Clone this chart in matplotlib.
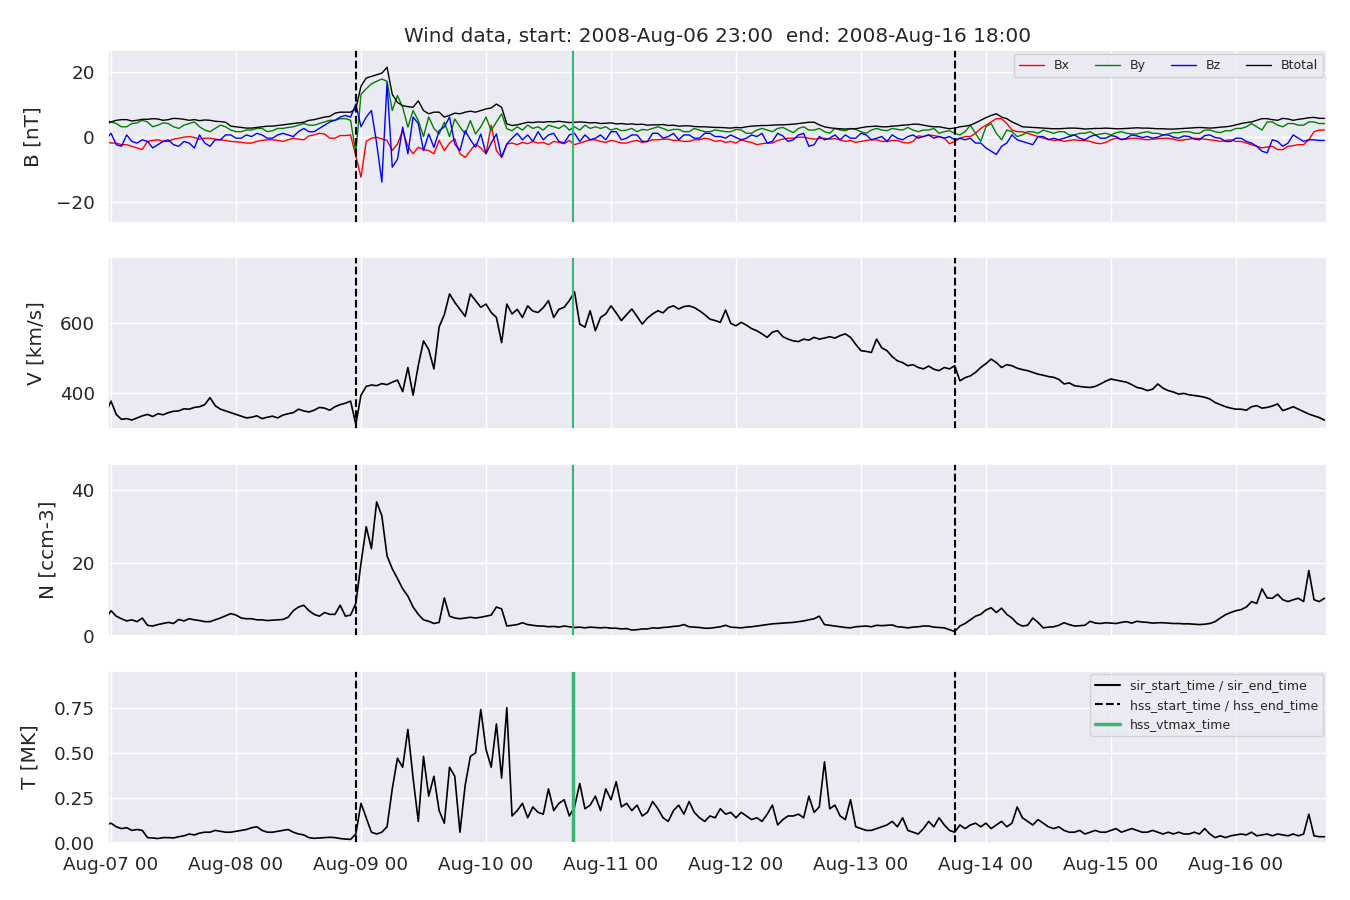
import pandas as pd
import matplotlib
matplotlib.use("Agg")
import matplotlib.pyplot as plt
import matplotlib.dates as mdates
from matplotlib.lines import Line2D
import seaborn as sns

# Wind data, hourly samples, starting 2008-08-06 23:00
# (one row = 12 hours)
START = "2008-08-06 23:00"
STEP = "1h"

bx = [-1.5, -2.0, -2.0, -2.5, -2.5, -3.0, -3.5, -4.0, -1.5, -1.2, -1.0, -1.5,
      -1.5, -0.8, -0.5, -0.2, 0.0, -0.3, -0.8, -0.5, -0.5, -0.8, -1.0, -1.2,
      -1.5, -1.6, -1.8, -2.0, -2.0, -1.5, -1.2, -1.0, -1.0, -1.2, -1.5, -1.0,
      -0.5, -0.8, -1.0, 0.2, 0.5, 1.0, 0.8, -0.5, -0.5, 0.3, 0.3, 0.5,
      -6.0, -12.5, -1.5, -0.5, -0.2, -0.7, -1.2, -4.3, -2.3, 1.8, -3.0, -5.3,
      -3.3, -4.0, -4.3, -5.3, -1.2, -4.3, -2.0, -0.7, -5.3, -6.4, -4.3, -2.3,
      -3.5, -5.3, 3.5, -4.3, -6.4, -2.3, -2.0, -2.5, -1.8, -2.2, -1.5, -2.0,
      -1.8, -2.5, -1.5, -1.8, -2.2, -1.2, -2.5, -2.0, -1.5, -1.0, -1.0, -1.5,
      -1.8, -1.2, -1.5, -2.0, -2.0, -1.5, -1.2, -1.8, -1.5, -1.0, -1.0, -0.8,
      -0.8, -1.2, -1.2, -1.5, -1.5, -1.0, -1.0, -0.5, -0.8, -1.5, -1.2, -1.8,
      -1.5, -2.0, -1.0, -1.5, -1.8, -2.5, -2.2, -2.0, -2.0, -1.2, -0.8, -0.5,
      -0.5, -0.2, -0.2, -0.5, -0.8, -0.6, -0.5, -0.8, -0.6, -1.0, -1.5, -1.2,
      -1.8, -1.5, -1.2, -1.0, -1.0, -1.5, -1.5, -1.2, -1.2, -1.8, -2.0, -1.5,
      0.2, 0.0, 0.5, 0.3, 0.0, -0.5, -2.2, -1.5, -0.5, 0.0, 0.0, 1.0,
      2.5, 3.5, 4.5, 5.5, 5.5, 4.0, 2.0, 1.5, 1.5, 1.0, 0.5, 0.0,
      -0.5, -0.8, -1.2, -1.0, -1.5, -1.2, -1.0, -1.2, -1.2, -1.5, -2.0, -2.2,
      -1.8, -1.0, -0.5, -0.8, -0.8, -0.5, -0.5, -0.8, -1.0, -0.8, -0.7, -0.5,
      -0.5, -0.8, -1.2, -1.0, -0.8, -0.5, -0.6, -0.8, -1.0, -1.2, -1.5, -1.2,
      -1.0, -1.5, -1.5, -2.0, -2.5, -3.0, -3.5, -3.2, -3.0, -4.0, -4.0, -3.0,
      -2.8, -2.5, -2.5, -1.0, 1.5, 2.0, 2.0]
by = [3.5, 4.5, 4.0, 3.0, 3.0, 4.0, 4.2, 5.0, 4.5, 3.0, 3.5, 4.2,
      4.0, 3.0, 2.5, 3.5, 4.0, 4.5, 3.0, 2.0, 1.5, 2.5, 3.5, 3.0,
      2.0, 1.5, 1.5, 2.0, 2.0, 2.5, 2.5, 1.5, 1.8, 2.5, 2.5, 2.8,
      3.0, 3.5, 4.0, 3.5, 3.5, 4.0, 4.5, 5.0, 5.0, 5.5, 5.5, 5.0,
      -5.0, 13.0, 14.7, 16.2, 17.0, 17.7, 17.0, 8.0, 12.6, 9.0, 2.9, 8.0,
      4.9, 0.0, 6.0, 2.5, 0.8, 4.4, 0.0, 5.4, 3.0, 0.8, 4.9, 0.8,
      3.0, 6.0, 1.8, 4.5, 7.0, 2.4, 1.8, 3.0, 2.0, 3.5, 2.5, 3.0,
      2.0, 3.5, 3.0, 2.5, 3.5, 2.0, 3.0, 2.0, 3.5, 2.5, 3.0, 2.5,
      3.0, 2.0, 2.5, 1.8, 2.0, 2.5, 1.5, 2.2, 2.0, 2.5, 3.0, 2.5,
      1.8, 2.2, 2.2, 1.5, 1.5, 2.5, 2.0, 1.5, 1.5, 2.0, 1.8, 1.5,
      1.5, 2.2, 2.0, 1.0, 1.0, 2.0, 2.5, 2.0, 1.5, 2.5, 2.8, 2.0,
      1.2, 2.5, 3.0, 2.0, 2.0, 2.5, 1.5, 1.0, 2.5, 2.0, 1.8, 2.5,
      2.2, 1.5, 1.0, 2.0, 2.5, 2.0, 1.8, 2.5, 2.2, 2.0, 2.8, 2.0,
      1.5, 2.0, 2.0, 2.5, 1.0, 1.5, 1.8, 1.0, 0.5, 1.5, 3.5, 1.0,
      -1.5, 3.0, 4.0, 1.0, -1.0, 2.0, 1.5, 0.0, 0.5, 1.5, 1.5, 1.0,
      2.0, 1.5, 1.0, 1.5, 1.5, 0.5, 0.5, 1.0, 1.0, 1.5, 0.5, 0.8,
      1.0, 0.5, 1.2, 1.5, 1.0, 0.8, 0.8, 1.2, 1.5, 1.0, 1.0, 0.5,
      0.8, 1.2, 1.2, 1.5, 1.5, 1.0, 1.0, 2.0, 2.0, 1.5, 1.2, 1.8,
      1.8, 2.5, 2.5, 3.0, 4.0, 3.0, 2.0, 4.5, 4.5, 3.5, 3.0, 4.0,
      4.0, 3.5, 3.5, 4.5, 4.5, 4.0, 4.0]
bz = [-1.0, 1.0, -2.5, -3.0, 0.5, -1.5, -2.0, -1.0, -1.5, -3.5, -2.5, -1.5,
      -1.0, -2.5, -3.0, -1.5, -2.0, -3.5, 0.5, -2.0, -3.0, -1.0, -1.0, 0.5,
      0.5, -0.5, -0.5, 0.5, 0.0, 1.0, 0.5, -0.5, -0.5, 0.5, 1.0, 0.5,
      0.0, 1.5, 2.5, 1.5, 1.5, 2.5, 3.5, 4.5, 5.0, 6.0, 6.5, 6.0,
      10.0, 3.0, 6.0, 8.0, -2.0, -14.0, 16.5, -9.4, -7.0, 2.9, -5.3, 6.0,
      4.0, -4.3, 0.8, -3.3, 1.8, 3.0, 6.0, -2.3, -4.3, 1.8, -1.0, -3.3,
      0.8, -5.3, -2.0, 0.8, -6.4, -2.3, -0.5, 1.0, -1.0, 0.5, -1.5, 1.5,
      -1.0, 0.5, 1.0, -1.5, -2.0, 0.5, 1.0, -1.5, 0.5, -1.0, -0.5, 0.5,
      -1.0, 1.5, 1.5, -1.0, -0.5, 0.5, 0.5, -1.5, -1.5, 1.0, 1.0, -0.5,
      0.0, 1.0, -1.0, 0.5, 0.5, -0.5, -0.5, 1.0, 1.0, 0.0, 0.0, -0.5,
      0.5, -0.3, -1.0, -0.5, 0.5, 0.0, 1.0, -2.0, -1.5, 1.0, 0.2, -1.5,
      -1.0, 0.5, 1.0, -3.0, -2.5, 0.0, -1.0, -0.5, 0.5, -1.0, 0.5, -0.5,
      -0.5, 1.0, 0.5, -1.0, -0.5, 0.0, -1.5, 0.5, -0.5, -1.0, 0.0, 0.5,
      -0.5, 0.0, 0.5, -0.5, 0.0, -0.5, 0.0, -1.0, -0.5, -1.0, -0.5, -2.0,
      -2.0, -3.5, -4.5, -5.5, -3.0, -2.0, 0.5, -1.0, -1.5, -2.0, -2.5, 0.0,
      0.0, -1.0, -0.5, -1.0, -0.5, 0.0, 0.5, -0.5, -1.0, 0.0, 0.5, -0.5,
      -0.5, 0.3, 0.0, -1.0, -0.5, 0.5, 0.2, -0.3, 0.0, -0.5, -0.2, 0.5,
      0.5, -0.2, -0.5, 0.2, 0.0, -0.8, -1.0, 0.3, 0.5, -0.3, -0.5, -1.5,
      -1.5, -0.5, -0.5, -1.5, -2.0, -3.0, -4.5, -5.0, -1.0, -1.5, -3.0, -2.0,
      0.5, -0.5, -1.5, -1.0, -1.0, -1.2, -1.2]
btotal = [4.8, 4.5, 5.0, 5.2, 5.2, 4.8, 5.0, 5.3, 5.3, 5.5, 5.4, 5.0,
          5.2, 5.6, 5.5, 5.3, 5.0, 5.2, 4.9, 5.1, 5.0, 4.7, 4.6, 4.4,
          3.2, 3.0, 2.8, 2.6, 2.6, 2.8, 3.0, 3.2, 3.2, 3.4, 3.6, 3.8,
          4.0, 4.2, 4.4, 5.0, 5.2, 5.6, 6.0, 6.2, 7.2, 7.5, 7.5, 7.5,
          8.5, 15.5, 18.0, 18.5, 19.0, 19.5, 21.3, 13.0, 10.5, 9.5, 9.2, 9.0,
          11.0, 8.0, 7.0, 7.5, 7.5, 6.0, 6.5, 7.2, 7.0, 7.5, 7.8, 7.5,
          8.0, 8.5, 8.8, 10.0, 9.0, 3.9, 3.4, 3.6, 4.0, 4.4, 4.3, 4.5,
          4.4, 4.6, 4.5, 4.7, 4.5, 4.3, 4.4, 4.5, 4.4, 4.2, 4.3, 4.0,
          4.1, 4.2, 3.9, 4.0, 3.8, 3.9, 3.7, 3.8, 3.5, 3.6, 3.6, 3.7,
          3.4, 3.5, 3.2, 3.3, 3.3, 3.1, 3.0, 3.0, 2.9, 2.8, 2.8, 2.7,
          2.6, 2.8, 2.7, 3.0, 3.2, 3.3, 3.4, 3.4, 3.5, 3.6, 3.6, 3.7,
          3.8, 4.0, 4.2, 4.4, 4.4, 3.6, 3.0, 2.7, 2.5, 2.4, 2.3, 2.4,
          2.4, 2.7, 3.0, 3.1, 3.2, 3.0, 3.0, 3.2, 3.3, 3.5, 3.6, 3.8,
          3.8, 3.5, 3.2, 3.0, 3.0, 2.7, 2.4, 2.6, 3.0, 3.2, 3.5, 4.2,
          5.0, 5.8, 6.5, 7.0, 6.0, 5.5, 4.5, 3.8, 3.0, 2.9, 2.8, 2.7,
          2.6, 2.5, 2.4, 2.4, 2.5, 2.6, 2.6, 2.5, 2.3, 2.4, 2.5, 2.5,
          2.6, 2.5, 2.4, 2.4, 2.5, 2.6, 2.7, 2.6, 2.6, 2.5, 2.4, 2.4,
          2.3, 2.3, 2.4, 2.5, 2.6, 2.7, 2.8, 2.7, 2.6, 2.7, 2.9, 3.0,
          3.2, 3.6, 4.0, 4.3, 4.5, 5.0, 5.5, 5.5, 5.2, 5.0, 5.6, 5.4,
          5.0, 5.3, 5.5, 5.8, 5.9, 5.6, 5.6]
vt = [346, 378, 340, 326, 328, 324, 330, 336, 340, 334, 342, 339,
      345, 349, 350, 356, 355, 360, 362, 368, 388, 365, 355, 350,
      345, 340, 335, 330, 332, 336, 328, 332, 335, 330, 338, 342,
      345, 355, 350, 347, 352, 360, 358, 352, 362, 368, 372, 378,
      312, 395, 420, 424, 422, 428, 425, 432, 438, 405, 474, 395,
      480, 550, 525, 470, 590, 625, 684, 660, 640, 620, 684, 665,
      646, 655, 631, 617, 545, 655, 627, 640, 617, 650, 635, 631,
      645, 665, 617, 640, 646, 665, 690, 598, 589, 636, 579, 617,
      627, 650, 630, 608, 625, 641, 620, 598, 615, 627, 636, 630,
      645, 650, 641, 648, 650, 645, 636, 625, 612, 608, 603, 638,
      600, 593, 603, 595, 585, 579, 570, 560, 575, 579, 562, 555,
      550, 548, 555, 552, 560, 555, 558, 562, 558, 565, 570, 560,
      540, 522, 520, 517, 555, 530, 522, 505, 493, 488, 479, 482,
      474, 470, 478, 469, 465, 474, 470, 479, 436, 445, 450, 460,
      474, 485, 498, 488, 474, 482, 479, 472, 468, 465, 460, 455,
      452, 448, 446, 440, 427, 430, 422, 420, 418, 417, 420, 427,
      435, 441, 438, 435, 432, 425, 417, 414, 408, 412, 427, 415,
      408, 404, 398, 400, 396, 394, 392, 389, 384, 374, 368, 362,
      358, 355, 355, 352, 362, 365, 358, 360, 364, 370, 351, 356,
      362, 355, 348, 341, 336, 331, 324]
np_ = [5.0, 7.0, 5.5, 4.8, 4.2, 4.5, 4.0, 5.0, 3.0, 2.8, 3.2, 3.5,
       3.8, 3.5, 4.6, 4.2, 4.8, 4.5, 4.3, 4.0, 4.0, 4.5, 5.0, 5.6,
       6.2, 5.8, 5.0, 4.8, 4.8, 4.5, 4.5, 4.3, 4.4, 4.5, 4.6, 5.2,
       7.0, 8.0, 8.5, 7.0, 6.0, 5.5, 6.5, 6.0, 6.0, 8.5, 5.5, 5.8,
       9.0, 20.0, 30.0, 24.0, 36.8, 33.0, 22.0, 18.5, 15.8, 13.0, 11.0, 8.0,
       6.0, 4.5, 4.1, 3.5, 3.8, 10.5, 5.5, 5.0, 4.8, 5.0, 5.2, 5.0,
       5.2, 5.5, 5.8, 8.0, 7.5, 2.8, 3.0, 3.2, 3.7, 3.2, 3.0, 2.8,
       2.8, 2.6, 2.7, 2.5, 2.8, 2.6, 2.4, 2.5, 2.3, 2.5, 2.4, 2.3,
       2.4, 2.2, 2.2, 2.0, 2.1, 1.7, 1.8, 2.0, 2.0, 2.3, 2.2, 2.4,
       2.5, 2.7, 2.8, 3.2, 2.6, 2.5, 2.4, 2.2, 2.2, 2.4, 2.6, 3.0,
       2.5, 2.4, 2.3, 2.5, 2.6, 2.8, 3.0, 3.2, 3.4, 3.5, 3.6, 3.7,
       3.8, 4.0, 4.2, 4.5, 4.8, 5.5, 3.2, 3.0, 2.8, 2.6, 2.4, 2.3,
       2.6, 2.7, 2.8, 2.6, 3.0, 2.9, 3.0, 3.1, 2.6, 2.5, 2.3, 2.5,
       2.6, 2.8, 2.8, 2.5, 2.4, 2.3, 1.8, 1.3, 2.8, 3.5, 4.5, 5.5,
       6.0, 7.2, 7.8, 6.5, 7.7, 6.0, 5.0, 3.5, 2.8, 3.0, 5.0, 3.8,
       2.3, 2.5, 2.6, 3.0, 3.7, 3.2, 2.8, 2.9, 3.0, 4.1, 3.6, 3.5,
       3.7, 3.6, 3.5, 3.8, 4.0, 3.6, 4.1, 3.9, 3.8, 3.6, 3.7, 3.7,
       3.6, 3.5, 3.5, 3.4, 3.4, 3.3, 3.2, 3.3, 3.5, 4.0, 5.0, 5.9,
       6.5, 7.0, 7.3, 8.0, 9.5, 9.0, 13.0, 10.5, 10.4, 11.5, 10.0, 9.5,
       10.0, 10.4, 9.5, 18.0, 10.0, 9.5, 10.4]
tp = [0.10, 0.11, 0.09, 0.08, 0.085, 0.07, 0.075, 0.07, 0.03, 0.028, 0.025, 0.03,
      0.03, 0.028, 0.035, 0.04, 0.05, 0.045, 0.055, 0.06, 0.06, 0.07, 0.065, 0.06,
      0.06, 0.065, 0.07, 0.075, 0.085, 0.09, 0.07, 0.06, 0.06, 0.065, 0.07, 0.075,
      0.06, 0.05, 0.045, 0.03, 0.026, 0.028, 0.03, 0.032, 0.03, 0.025, 0.022, 0.02,
      0.05, 0.22, 0.14, 0.06, 0.05, 0.06, 0.09, 0.30, 0.47, 0.42, 0.63, 0.36,
      0.12, 0.48, 0.26, 0.37, 0.18, 0.11, 0.42, 0.37, 0.06, 0.32, 0.48, 0.50,
      0.74, 0.52, 0.42, 0.66, 0.36, 0.75, 0.15, 0.18, 0.22, 0.14, 0.20, 0.17,
      0.16, 0.30, 0.18, 0.22, 0.24, 0.15, 0.20, 0.33, 0.19, 0.21, 0.26, 0.18,
      0.30, 0.24, 0.34, 0.20, 0.22, 0.18, 0.21, 0.15, 0.17, 0.23, 0.19, 0.14,
      0.12, 0.18, 0.21, 0.16, 0.23, 0.17, 0.14, 0.12, 0.15, 0.14, 0.19, 0.16,
      0.17, 0.14, 0.17, 0.15, 0.13, 0.14, 0.12, 0.16, 0.21, 0.10, 0.13, 0.15,
      0.15, 0.16, 0.14, 0.26, 0.17, 0.20, 0.45, 0.19, 0.21, 0.15, 0.13, 0.24,
      0.09, 0.08, 0.07, 0.07, 0.08, 0.09, 0.10, 0.12, 0.09, 0.14, 0.07, 0.06,
      0.05, 0.08, 0.12, 0.09, 0.14, 0.10, 0.07, 0.06, 0.10, 0.08, 0.10, 0.11,
      0.09, 0.11, 0.08, 0.10, 0.12, 0.09, 0.11, 0.20, 0.14, 0.12, 0.10, 0.13,
      0.11, 0.09, 0.08, 0.09, 0.07, 0.06, 0.06, 0.07, 0.05, 0.06, 0.07, 0.06,
      0.06, 0.07, 0.08, 0.06, 0.07, 0.08, 0.07, 0.06, 0.06, 0.07, 0.06, 0.05,
      0.06, 0.05, 0.06, 0.05, 0.05, 0.06, 0.05, 0.08, 0.05, 0.03, 0.04, 0.03,
      0.04, 0.045, 0.05, 0.045, 0.06, 0.04, 0.045, 0.05, 0.04, 0.05, 0.045, 0.04,
      0.05, 0.04, 0.05, 0.16, 0.04, 0.035, 0.035]

# event markers
hss_times = ["2008-08-08 23:00", "2008-08-13 18:00"]
vtmax_time = "2008-08-10 16:45"

title = "Wind data, start: 2008-Aug-06 23:00  end: 2008-Aug-16 18:00"
ylabels = ["B [nT]", "V [km/s]", "N [ccm-3]", "T [MK]"]
ylims = [(-26.5, 26.5), (297, 789), (0, 47.2), (0, 0.955)]

times = pd.date_range(START, periods=len(vt), freq=STEP)

sns.set_theme(style="darkgrid", font_scale=1.2)
plt.rcParams["font.family"] = ["DejaVu Sans"]

fig, axes = plt.subplots(4, 1, figsize=(13.5, 9), dpi=100, sharex=True)
fig.subplots_adjust(left=0.08, right=0.983, top=0.944, bottom=0.0633, hspace=0.2)

ax = axes[0]
ax.plot(times, bx, color="red", lw=1.0, label="Bx")
ax.plot(times, by, color="green", lw=1.0, label="By")
ax.plot(times, bz, color="blue", lw=1.0, label="Bz")
ax.plot(times, btotal, color="black", lw=1.0, label="Btotal")
ax.legend(loc="upper right", ncol=4, fontsize=9, borderaxespad=0.3)
ax.set_title(title)

axes[1].plot(times, vt, color="black", lw=1.2)
axes[2].plot(times, np_, color="black", lw=1.2)
axes[3].plot(times, tp, color="black", lw=1.2)

for k, ax in enumerate(axes):
    for t in hss_times:
        ax.axvline(pd.Timestamp(t), color="black", ls="--", lw=1.5)
    ax.axvline(pd.Timestamp(vtmax_time), color="mediumseagreen",
               lw=2.5 if k == 3 else 1.5)
    ax.set_ylabel(ylabels[k], labelpad=10)
    ax.set_ylim(*ylims[k])

axes[1].set_yticks([400, 600])
axes[2].set_yticks([0, 20, 40])
axes[3].set_yticks([0, 0.25, 0.5, 0.75])

handles = [Line2D([], [], color="black", lw=1.5),
           Line2D([], [], color="black", lw=1.5, ls="--"),
           Line2D([], [], color="mediumseagreen", lw=2.5)]
axes[3].legend(handles, ["sir_start_time / sir_end_time",
                         "hss_start_time / hss_end_time",
                         "hss_vtmax_time"],
               loc="upper right", fontsize=9, borderaxespad=0.3)

axes[3].set_xlim(pd.Timestamp("2008-08-06 23:25"), pd.Timestamp("2008-08-16 17:30"))
axes[3].xaxis.set_major_locator(mdates.DayLocator())
axes[3].xaxis.set_major_formatter(mdates.DateFormatter("%b-%d %H"))

fig.savefig("out.png", dpi=100)
